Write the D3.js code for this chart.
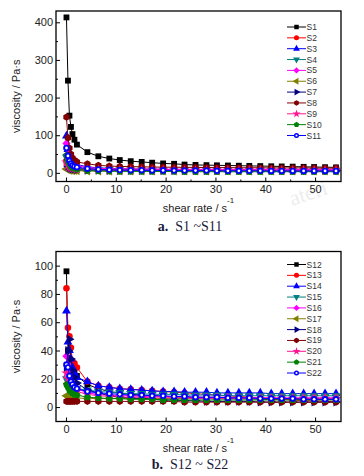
<!DOCTYPE html>
<html>
<head>
<meta charset="utf-8">
<script src="https://cdn.jsdelivr.net/npm/d3@7"></script>
<style>
  body { margin: 0; background: #fff; }
  svg text { font-family: "Liberation Sans", Arial, sans-serif; }
</style>
</head>
<body>
<div class="chart_box"></div>
<script>
// shear rate points (1/s), same for every sample
const shearRate = [0.1, 0.4, 0.7, 1.0, 1.3, 1.7, 2.2, 4.3, 6.5, 8.7, 10.8, 13.0, 15.2, 17.3, 19.5, 21.7,
  23.8, 26.0, 28.2, 30.3, 32.5, 34.7, 36.8, 39.0, 41.2, 43.3, 45.5, 47.7, 49.8, 52.0, 54.2];

// panel a: S1 ~ S11 (viscosity, Pa·s)
const s1 = [413, 245, 152, 122, 103, 88, 75, 55, 44, 38, 34, 31, 29, 27, 25, 24, 22, 21, 20.5, 20, 19.5, 19, 18.5, 18, 17.5, 17, 16.5, 16, 15.5, 15, 14.5];
const s2 = [32, 24, 19, 16, 14, 13, 12, 11, 10, 10, 9.5, 9.5, 9, 9, 9, 9, 8.5, 8.5, 8.5, 8.5, 8, 8, 8, 8, 8, 8, 8, 8, 8, 8, 8];
const s3 = [98, 62, 45, 36, 30, 26, 22, 16, 13, 12, 11, 10, 10, 9.5, 9.5, 9, 9, 9, 9, 9, 8.5, 8.5, 8.5, 8.5, 8.5, 8.5, 8.5, 8.5, 8.5, 8.5, 8.5];
const s4 = [42, 28, 22, 18, 16, 14, 13, 10, 9, 8, 8, 7.5, 7.5, 7, 7, 7, 7, 7, 7, 7, 7, 7, 7, 7, 7, 7, 7, 7, 7, 7, 7];
const s5 = [78, 50, 38, 30, 25, 22, 19, 14, 12, 11, 10, 10, 9.5, 9.5, 9, 9, 9, 9, 9, 9, 9, 9, 9, 9, 9, 9, 9, 9, 9, 9, 9];
const s6 = [10, 8, 7, 6.5, 6, 6, 5.5, 5, 5, 5, 5, 5, 5, 5, 5, 5, 5, 5, 5, 5, 5, 5, 5, 5, 5, 5, 5, 5, 5, 5, 5];
const s7 = [25, 18, 14, 12, 11, 10, 9, 7, 6.5, 6, 6, 6, 6, 6, 6, 6, 6, 6, 6, 6, 6, 6, 6, 6, 6, 6, 6, 6, 6, 6, 6];
const s8 = [148, 93, 66, 50, 40, 34, 29, 24, 20, 18, 17, 16.5, 16, 15.5, 15, 15, 14.5, 14.5, 14, 14, 14, 13.5, 13.5, 13.5, 13, 13, 13, 13, 12.5, 12.5, 12.5];
const s9 = [28, 20, 16, 14, 12, 11, 10, 8, 7.5, 7, 7, 7, 7, 7, 7, 6.5, 6.5, 6.5, 6.5, 6.5, 6.5, 6.5, 6.5, 6.5, 6.5, 6.5, 6.5, 6.5, 6.5, 6.5, 6.5];
const s10 = [46, 30, 22, 17, 14, 12, 10, 6, 5, 4.5, 4, 4, 4, 3.5, 3.5, 3.5, 3, 3, 3, 3, 3, 3, 3, 3, 3, 3, 3, 3, 3, 3, 3];
const s11 = [66, 45, 32, 25, 20, 17, 15, 11, 9, 8, 7.5, 7, 7, 6.5, 6.5, 6, 6, 6, 6, 5.5, 5.5, 5.5, 5.5, 5.5, 5, 5, 5, 5, 5, 5, 5];

// panel b: S12 ~ S22
const s12 = [96, 40, 33, 30, 27, 25, 22, 16, 13, 11, 10, 9, 8.5, 8, 7.5, 7, 7, 6.5, 6.5, 6, 6, 6, 6, 5.5, 5.5, 5.5, 5.5, 5.5, 5.5, 5.5, 5.5];
const s13 = [84, 56, 50, 42, 32, 31, 28, 18, 15, 14, 13, 12.5, 12, 11.5, 11, 10.5, 10, 9.5, 9, 8.5, 8, 7.5, 7, 6.5, 6, 5.5, 5, 4.5, 4.5, 4, 4];
const s14 = [68, 46, 40, 34, 28, 24, 21, 18, 15, 14, 13, 12.5, 12, 11.5, 11, 11, 10.5, 10.5, 10.5, 10, 10, 10, 10, 10, 9.5, 9.5, 9.5, 9.5, 9.5, 9.5, 9.5];
const s15 = [20, 18, 16, 15, 14, 13.5, 13, 12, 11, 10.5, 10, 9.5, 9.5, 9, 9, 9, 8.5, 8.5, 8.5, 8.5, 8, 8, 8, 8, 8, 8, 8, 8, 8, 8, 8];
const s16 = [36, 30, 24, 20, 17, 15, 13, 10, 9, 8.5, 8, 8, 7.5, 7.5, 7.5, 7, 7, 7, 7, 7, 7, 6.5, 6.5, 6.5, 6.5, 6.5, 6.5, 6.5, 6.5, 6.5, 6.5];
const s17 = [8, 7.5, 7, 7, 6.5, 6.5, 6.5, 6, 6, 6, 6, 6, 6, 6, 6, 6, 6, 6, 6, 6, 6, 6, 6, 6, 6, 6, 6, 6, 6, 6, 6];
const s18 = [28, 40, 48, 34, 26, 21, 17, 12, 10, 8, 7, 6.5, 6, 5.5, 5, 5, 4.5, 4.5, 4, 4, 4, 4, 4, 3.5, 3.5, 3.5, 3.5, 3.5, 3.5, 3.5, 3.5];
const s19 = [4, 4, 4, 4, 4, 4, 4, 4, 4, 4, 4, 4, 4, 4, 4, 4, 3.5, 3.5, 3.5, 3.5, 3.5, 3.5, 3.5, 3.5, 3.5, 3.5, 3.5, 3.5, 3.5, 3.5, 3.5];
const s20 = [24, 20, 17, 15, 13, 12, 11, 9, 8, 7.5, 7, 7, 7, 6.5, 6.5, 6.5, 6.5, 6, 6, 6, 6, 6, 6, 6, 6, 6, 6, 6, 6, 6, 6];
const s21 = [16, 14, 12, 11, 10, 9, 8.5, 7, 6.5, 6, 6, 5.5, 5.5, 5.5, 5, 5, 5, 5, 5, 5, 5, 5, 5, 5, 5, 5, 5, 5, 5, 5, 5];
const s22 = [30, 28, 22, 18, 16, 14, 13, 11, 10, 9.5, 9, 8.5, 8.5, 8, 8, 7.5, 7.5, 7, 7, 7, 6.5, 6.5, 6.5, 6, 6, 6, 6, 5.5, 5.5, 5.5, 5.5];

const namesA = ["S1", "S2", "S3", "S4", "S5", "S6", "S7", "S8", "S9", "S10", "S11"];
const namesB = ["S12", "S13", "S14", "S15", "S16", "S17", "S18", "S19", "S20", "S21", "S22"];

const xTicks = [0, 10, 20, 30, 40, 50];
const xMinor = [5, 15, 25, 35, 45];
const yTicksA = [0, 100, 200, 300, 400];
const yMinorA = [50, 150, 250, 350];
const yTicksB = [0, 20, 40, 60, 80, 100];
const yMinorB = [10, 30, 50, 70, 90];

const colors = ["#000000", "#ff0000", "#0000ff", "#008080", "#ff00ff", "#808000",
  "#000080", "#800000", "#ff1493", "#008000", "#0000ff"];
const shapes = ["square", "circle", "triangle", "down", "diamond", "left",
  "right", "hexagon", "star", "pentagon", "half"];

const svg = d3.select(".chart_box")
  .append("svg")
  .attr("width", 364)
  .attr("height", 476);

// regular polygon symbol (hexagon / pentagon)
function polygon(n) {
  return {
    draw(ctx, size) {
      const r = Math.sqrt(size / (n / 2 * Math.sin(2 * Math.PI / n)));
      for (let i = 0; i < n; i++) {
        const a = -Math.PI / 2 + i * 2 * Math.PI / n;
        if (i === 0) ctx.moveTo(r * Math.cos(a), r * Math.sin(a));
        else ctx.lineTo(r * Math.cos(a), r * Math.sin(a));
      }
      ctx.closePath();
    }
  };
}

function marker(sel, shape, color, size) {
  let type = d3.symbolCircle, rot = 0;
  if (shape === "square") type = d3.symbolSquare;
  if (shape === "triangle") type = d3.symbolTriangle;
  if (shape === "down") { type = d3.symbolTriangle; rot = 180; }
  if (shape === "left") { type = d3.symbolTriangle; rot = -90; }
  if (shape === "right") { type = d3.symbolTriangle; rot = 90; }
  if (shape === "diamond") { type = d3.symbolSquare; rot = 45; }
  if (shape === "star") type = d3.symbolStar;
  if (shape === "hexagon") type = polygon(6);
  if (shape === "pentagon") type = polygon(5);
  sel.append("path")
    .attr("d", d3.symbol(type, size)())
    .attr("transform", "rotate(" + rot + ")")
    .attr("fill", color);
  if (shape === "half") {
    sel.append("circle").attr("r", Math.sqrt(size / Math.PI) * 0.42).attr("fill", "#fff");
  }
}

function drawPanel(cfg) {
  const x = d3.scaleLinear().domain([-2, 55.2]).range([56, 341]);
  const y = d3.scaleLinear().domain(cfg.yDomain).range([cfg.bottom, cfg.top]);
  const g = svg.append("g");

  // series: line then markers
  cfg.series.forEach((vals, i) => {
    const pts = shearRate.map((r, j) => [r, vals[j]]);
    g.append("path")
      .datum(pts)
      .attr("fill", "none")
      .attr("stroke", colors[i])
      .attr("stroke-width", 1)
      .attr("d", d3.line().x((d) => x(d[0])).y((d) => y(d[1])));
    pts.forEach((p) => {
      const m = g.append("g").attr("transform", `translate(${x(p[0])},${y(p[1])})`);
      marker(m, shapes[i], colors[i], 34);
    });
  });

  // frame
  g.append("rect")
    .attr("x", 56).attr("y", cfg.top)
    .attr("width", 285).attr("height", cfg.bottom - cfg.top)
    .attr("fill", "none").attr("stroke", "#000").attr("stroke-width", 1.3);

  // axes with inward ticks
  g.append("g")
    .attr("transform", `translate(0,${cfg.bottom})`)
    .call(d3.axisBottom(x).tickValues(xTicks).tickSize(-4).tickPadding(4));
  g.append("g")
    .attr("transform", `translate(0,${cfg.bottom})`)
    .call(d3.axisBottom(x).tickValues(xMinor).tickSize(-2).tickFormat(""));
  g.append("g")
    .attr("transform", "translate(56,0)")
    .call(d3.axisLeft(y).tickValues(cfg.yTicks).tickSize(-4).tickPadding(3));
  g.append("g")
    .attr("transform", "translate(56,0)")
    .call(d3.axisLeft(y).tickValues(cfg.yMinor).tickSize(-2).tickFormat(""));
  g.selectAll(".domain").remove();
  g.selectAll(".tick line").attr("stroke", "#000");
  g.selectAll(".tick text").attr("font-size", 11).attr("fill", "#222")
    .style("font-family", "'Liberation Sans', Arial, sans-serif");

  // axis titles
  const xt = g.append("text")
    .attr("x", 198.5).attr("y", cfg.bottom + 30)
    .attr("text-anchor", "middle")
    .attr("font-size", 11).attr("fill", "#222");
  xt.append("tspan").text("shear rate / s");
  xt.append("tspan").attr("font-size", 8).attr("dy", -9).text("-1");

  g.append("text")
    .attr("transform", `translate(20,${(cfg.top + cfg.bottom) / 2}) rotate(-90)`)
    .attr("text-anchor", "middle")
    .attr("font-size", 11).attr("fill", "#222")
    .text("viscosity / Pa\u00b7s");

  // legend
  cfg.names.forEach((name, i) => {
    const ly = cfg.legendTop + i * 10.85;
    const lg = g.append("g");
    lg.append("line")
      .attr("x1", 287).attr("x2", 306).attr("y1", ly).attr("y2", ly)
      .attr("stroke", colors[i]).attr("stroke-width", 1);
    const m = lg.append("g").attr("transform", `translate(296.5,${ly})`);
    marker(m, shapes[i], colors[i], 20);
    lg.append("text")
      .attr("x", 306.5).attr("y", ly + 3)
      .attr("font-size", 8.5)
      .attr("fill", "#333")
      .style("font-family", "'Liberation Sans Narrow', 'Liberation Sans', Arial, sans-serif")
      .text(name);
  });

  // caption
  const cap = svg.append("text")
    .attr("x", 190).attr("y", cfg.captionY)
    .attr("text-anchor", "middle")
    .attr("font-size", 14)
    .attr("fill", "#1a1a3a")
    .style("font-family", "'Liberation Serif', 'Times New Roman', serif");
  cap.append("tspan").attr("font-weight", "bold").text(cfg.captionTag);
  cap.append("tspan").text("\u00a0\u00a0" + cfg.captionText);
}

drawPanel({
  series: [s1, s2, s3, s4, s5, s6, s7, s8, s9, s10, s11],
  names: namesA,
  yDomain: [-23, 430], yTicks: yTicksA, yMinor: yMinorA,
  top: 11, bottom: 181.5, legendTop: 27,
  captionY: 230.5, captionTag: "a.", captionText: "S1 ~S11"
});

drawPanel({
  series: [s12, s13, s14, s15, s16, s17, s18, s19, s20, s21, s22],
  names: namesB,
  yDomain: [-10.2, 110], yTicks: yTicksB, yMinor: yMinorB,
  top: 251.5, bottom: 421.5, legendTop: 264.5,
  captionY: 469, captionTag: "b.", captionText: "S12 ~ S22"
});

// faint watermark from the source page
svg.append("text")
  .attr("transform", "translate(292,206) rotate(-18)")
  .attr("font-size", 22)
  .attr("fill", "#000")
  .attr("opacity", 0.07)
  .style("font-family", "'Liberation Serif', serif")
  .text("ateri");
</script>
</body>
</html>
